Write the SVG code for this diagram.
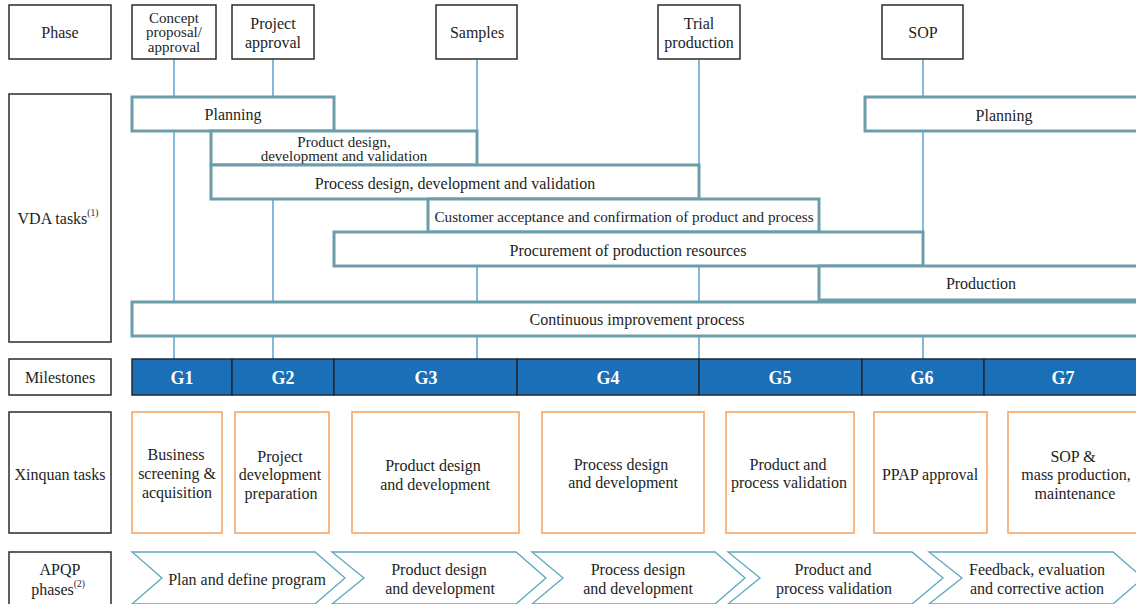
<svg xmlns="http://www.w3.org/2000/svg" width="1136" height="604" viewBox="0 0 1136 604" font-family="'Liberation Serif', 'Times New Roman', 'DejaVu Serif', serif">
<style>
text{font-family:'Liberation Serif','Times New Roman','DejaVu Serif',serif;fill:#1e1e1e;font-size:16px;text-anchor:middle;dominant-baseline:central}
text.tight{font-size:15px}
text.cust{font-size:15.2px}
.lab{fill:#fff;stroke:#2b2b2b;stroke-width:1.5}
.vda{fill:#fff;stroke:#6c9dab;stroke-width:3}
.vl{stroke:#5ba2cf;stroke-width:1.5;fill:none}
.ms{fill:#1a6fb7;stroke:#1f2a36;stroke-width:1.5}
text.mt{fill:#fff;font-weight:bold;font-size:18px}
.xq{fill:#fff;stroke:#f5a15c;stroke-width:1.5}
.ch{fill:#fff;stroke:#5aa8bf;stroke-width:1.3}
.sup{font-size:9.5px}
</style>
<rect width="1136" height="604" fill="#fff"/>

<g id="connectors">
<line class="vl" x1="174" y1="59" x2="174" y2="359"/>
<line class="vl" x1="273" y1="59" x2="273" y2="359"/>
<line class="vl" x1="477" y1="59" x2="477" y2="359"/>
<line class="vl" x1="699" y1="59" x2="699" y2="359"/>
<line class="vl" x1="923" y1="59" x2="923" y2="359"/>
</g>

<g id="label-phase"><rect class="lab" x="9" y="5" width="102" height="54"/><text x="60" y="32">Phase</text></g>
<g id="label-vda"><rect class="lab" x="9" y="94" width="102" height="248"/><text x="58" y="218">VDA tasks<tspan class="sup" dy="-5">(1)</tspan></text></g>
<g id="label-milestones"><rect class="lab" x="9" y="359" width="102" height="36"/><text x="60" y="377">Milestones</text></g>
<g id="label-xinquan"><rect class="lab" x="9" y="412" width="102" height="121"/><text x="60" y="474">Xinquan tasks</text></g>
<g id="label-apqp"><rect class="lab" x="9" y="552" width="102" height="60"/><text x="60" y="569">APQP</text><text x="58" y="589">phases<tspan class="sup" dy="-5">(2)</tspan></text></g>

<g id="phase-concept"><rect class="lab" x="132" y="5" width="84" height="54"/><text class="tight" x="174" y="17.5">Concept</text><text class="tight" x="174" y="32">proposal/</text><text class="tight" x="174" y="46.5">approval</text></g>
<g id="phase-project"><rect class="lab" x="232" y="5" width="82" height="54"/><text x="273" y="23">Project</text><text x="273" y="42">approval</text></g>
<g id="phase-samples"><rect class="lab" x="436" y="5" width="81" height="54"/><text x="477" y="32">Samples</text></g>
<g id="phase-trial"><rect class="lab" x="658" y="5" width="82" height="54"/><text x="699" y="23">Trial</text><text x="699" y="42">production</text></g>
<g id="phase-sop"><rect class="lab" x="882" y="5" width="81" height="54"/><text x="923" y="32">SOP</text></g>

<g id="vda-planning1"><rect class="vda" x="132" y="97" width="202" height="34"/><text x="233" y="114">Planning</text></g>
<g id="vda-planning2"><rect class="vda" x="865" y="97" width="280" height="34"/><text x="1004" y="115">Planning</text></g>
<g id="vda-product"><rect class="vda" x="211" y="131" width="266" height="34"/><text class="tight" x="344" y="141.5">Product design,</text><text class="tight" x="344" y="156">development and validation</text></g>
<g id="vda-process"><rect class="vda" x="211" y="165" width="488" height="34"/><text x="455" y="183">Process design, development and validation</text></g>
<g id="vda-customer"><rect class="vda" x="428" y="199" width="391" height="33"/><text class="cust" x="624" y="216">Customer acceptance and confirmation of product and process</text></g>
<g id="vda-procurement"><rect class="vda" x="334" y="232" width="589" height="34"/><text x="628" y="250">Procurement of production resources</text></g>
<g id="vda-production"><rect class="vda" x="819" y="266" width="326" height="34"/><text x="981" y="283">Production</text></g>
<g id="vda-continuous"><rect class="vda" x="132" y="302" width="1013" height="34"/><text x="637" y="319">Continuous improvement process</text></g>

<g id="milestones">
<rect class="ms" x="132" y="359" width="100" height="36"/><text class="mt" x="182" y="378">G1</text>
<rect class="ms" x="232" y="359" width="102" height="36"/><text class="mt" x="283" y="378">G2</text>
<rect class="ms" x="334" y="359" width="183" height="36"/><text class="mt" x="426" y="378">G3</text>
<rect class="ms" x="517" y="359" width="182" height="36"/><text class="mt" x="608" y="378">G4</text>
<rect class="ms" x="699" y="359" width="163" height="36"/><text class="mt" x="780" y="378">G5</text>
<rect class="ms" x="862" y="359" width="122" height="36"/><text class="mt" x="922" y="378">G6</text>
<rect class="ms" x="984" y="359" width="160" height="36"/><text class="mt" x="1063" y="378">G7</text>
</g>

<g id="xq-business"><rect class="xq" x="132" y="412" width="90" height="121"/><text x="176" y="454">Business</text><text x="177" y="473">screening &amp;</text><text x="177" y="492">acquisition</text></g>
<g id="xq-project"><rect class="xq" x="235" y="412" width="94" height="121"/><text x="280" y="456">Project</text><text x="280" y="474">development</text><text x="281" y="493">preparation</text></g>
<g id="xq-product"><rect class="xq" x="352" y="412" width="167" height="121"/><text x="433" y="465">Product design</text><text x="435" y="484">and development</text></g>
<g id="xq-process"><rect class="xq" x="542" y="412" width="162" height="121"/><text x="621" y="464">Process design</text><text x="623" y="482">and development</text></g>
<g id="xq-validation"><rect class="xq" x="726" y="412" width="128" height="121"/><text x="788" y="464">Product and</text><text x="789" y="482">process validation</text></g>
<g id="xq-ppap"><rect class="xq" x="874" y="412" width="113" height="121"/><text x="930" y="474">PPAP approval</text></g>
<g id="xq-sop"><rect class="xq" x="1008" y="412" width="140" height="121"/><text x="1073" y="456">SOP &amp;</text><text x="1076" y="474">mass production,</text><text x="1075" y="493">maintenance</text></g>

<g id="apqp-1"><path class="ch" d="M132,552 H315 L345,578 L315,604 H132 L162,578 Z"/><text x="247" y="579">Plan and define program</text></g>
<g id="apqp-2"><path class="ch" d="M332,552 H516 L546,578 L516,604 H332 L364,578 Z"/><text x="439" y="569">Product design</text><text x="440" y="588">and development</text></g>
<g id="apqp-3"><path class="ch" d="M532,552 H715 L745,578 L715,604 H532 L563,578 Z"/><text x="638" y="569">Process design</text><text x="638" y="588">and development</text></g>
<g id="apqp-4"><path class="ch" d="M728,552 H912 L943,578 L912,604 H728 L760,578 Z"/><text x="833" y="569">Product and</text><text x="834" y="588">process validation</text></g>
<g id="apqp-5"><path class="ch" d="M929,552 H1113 L1143,578 L1113,604 H929 L962,578 Z"/><text x="1037" y="569">Feedback, evaluation</text><text x="1037" y="588">and corrective action</text></g>
</svg>
